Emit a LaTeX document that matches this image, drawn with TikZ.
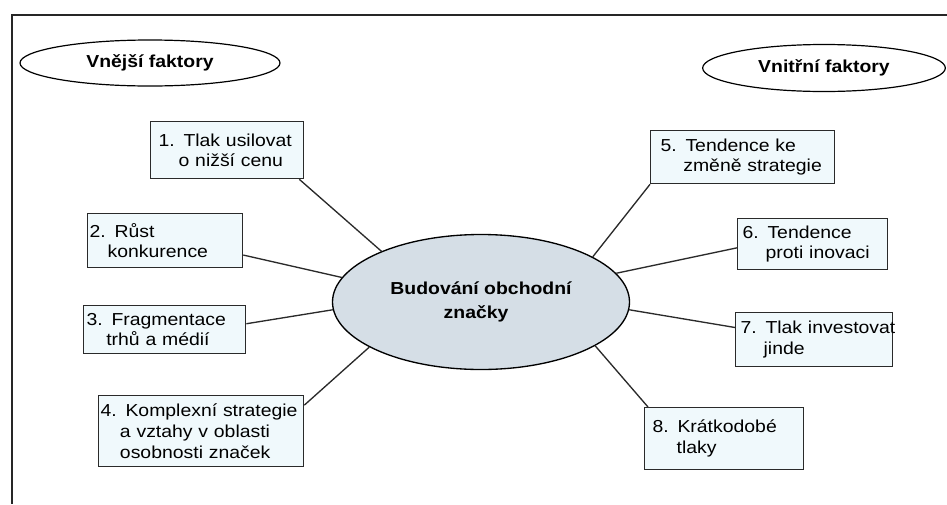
\documentclass[tikz,border=0pt]{standalone}
\usepackage{fontspec}
\setmainfont{Liberation Sans}[FakeStretch=1.12]
\usetikzlibrary{shapes.geometric,calc}
\definecolor{boxfill}{HTML}{F0F9FC}
\definecolor{hubfill}{HTML}{D5DEE6}
\definecolor{edgecol}{HTML}{2A2A2A}
\begin{document}
\begin{tikzpicture}[x=0.75pt,y=-0.75pt,
  factor/.style={draw=edgecol, line width=1pt, fill=boxfill, anchor=north west,
    inner xsep=0pt, inner ysep=0pt, align=left, font=\fontsize{13}{15.5}\selectfont},
  title/.style={ellipse, draw=black, line width=0.9pt, fill=white, inner sep=0pt,
    font=\bfseries\fontsize{13}{15}\selectfont},
  hub/.style={ellipse, draw=black, line width=1pt, fill=hubfill, inner sep=0pt,
    align=left, font=\bfseries\fontsize{13}{17.5}\selectfont},
  link/.style={draw=edgecol, line width=1pt}]
\useasboundingbox (0,0) rectangle (947,504);
% frame (top and left edges)
\draw[line width=1.2pt, black!85] (947,15) -- (12,15) -- (12,504);

% titles
\node[title, minimum width=195pt, minimum height=34.5pt] (ext) at (150,63) {Vnější faktory};
\node[title, minimum width=182pt, minimum height=35.25pt] (int) at (824,68) {Vnitřní faktory};

% hub
\node[hub, minimum width=222.75pt, minimum height=101.25pt] (c) at (481,302)
  {Budování obchodní\\\hspace*{40pt}značky};

% left factors
\node[factor, text width=114.75pt, minimum height=42.75pt] (b1) at (150,121)
  {\hspace*{6pt}\mbox{1. Tlak usilovat}\\\hspace*{21pt}\mbox{o nižší cenu}};
\node[factor, text width=116.25pt, minimum height=40.5pt] (b2) at (87,213)
  {\hspace*{1.5pt}\mbox{2. Růst}\\\hspace*{15pt}\mbox{konkurence}};
\node[factor, text width=121.5pt, minimum height=36pt] (b3) at (83,305)
  {\hspace*{2.25pt}\mbox{3. Fragmentace}\\\hspace*{17pt}\mbox{trhů a médií}};
\node[factor, text width=153.75pt, minimum height=53.25pt] (b4) at (98,395)
  {\hspace*{1.5pt}\mbox{4. Komplexní strategie}\\\hspace*{16pt}\mbox{a vztahy v oblasti}\\\hspace*{16pt}\mbox{osobnosti značek}};

% right factors
\node[factor, text width=138pt, minimum height=39.75pt] (b5) at (650,130)
  {\hspace*{7.5pt}\mbox{5. Tendence ke}\\\hspace*{24.5pt}\mbox{změně strategie}};
\node[factor, text width=112.5pt, minimum height=38.25pt] (b6) at (737,218)
  {\hspace*{3.75pt}\mbox{6. Tendence}\\\hspace*{21pt}\mbox{proti inovaci}};
\node[factor, text width=117.75pt, minimum height=40.5pt] (b7) at (735,312)
  {\hspace*{3.75pt}\mbox{7. Tlak investovat}\\\hspace*{21pt}\mbox{jinde}};
\node[factor, text width=119.25pt, minimum height=46.5pt] (b8) at (644,407)
  {\hspace*{6pt}\mbox{8. Krátkodobé}\\\hspace*{24pt}\mbox{tlaky}};

% connectors
\draw[link] ($(b1.south east)+(-5,0)$) -- (c.153);
\draw[link] ($(b2.south east)!0.24!(b2.north east)$) -- (c.170);
\draw[link] ($(b3.south east)!0.62!(b3.north east)$) -- (c.183);
\draw[link] ($(b4.north east)!0.14!(b4.south east)$) -- (c.202);
\draw[link] (b5.south west) -- (c.22);
\draw[link] ($(b6.north west)!0.57!(b6.south west)$) -- (c.12);
\draw[link] ($(b7.north west)!0.28!(b7.south west)$) -- (c.-3);
\draw[link] ($(b8.north west)+(4,0)$) -- (c.-21);
\end{tikzpicture}
\end{document}
